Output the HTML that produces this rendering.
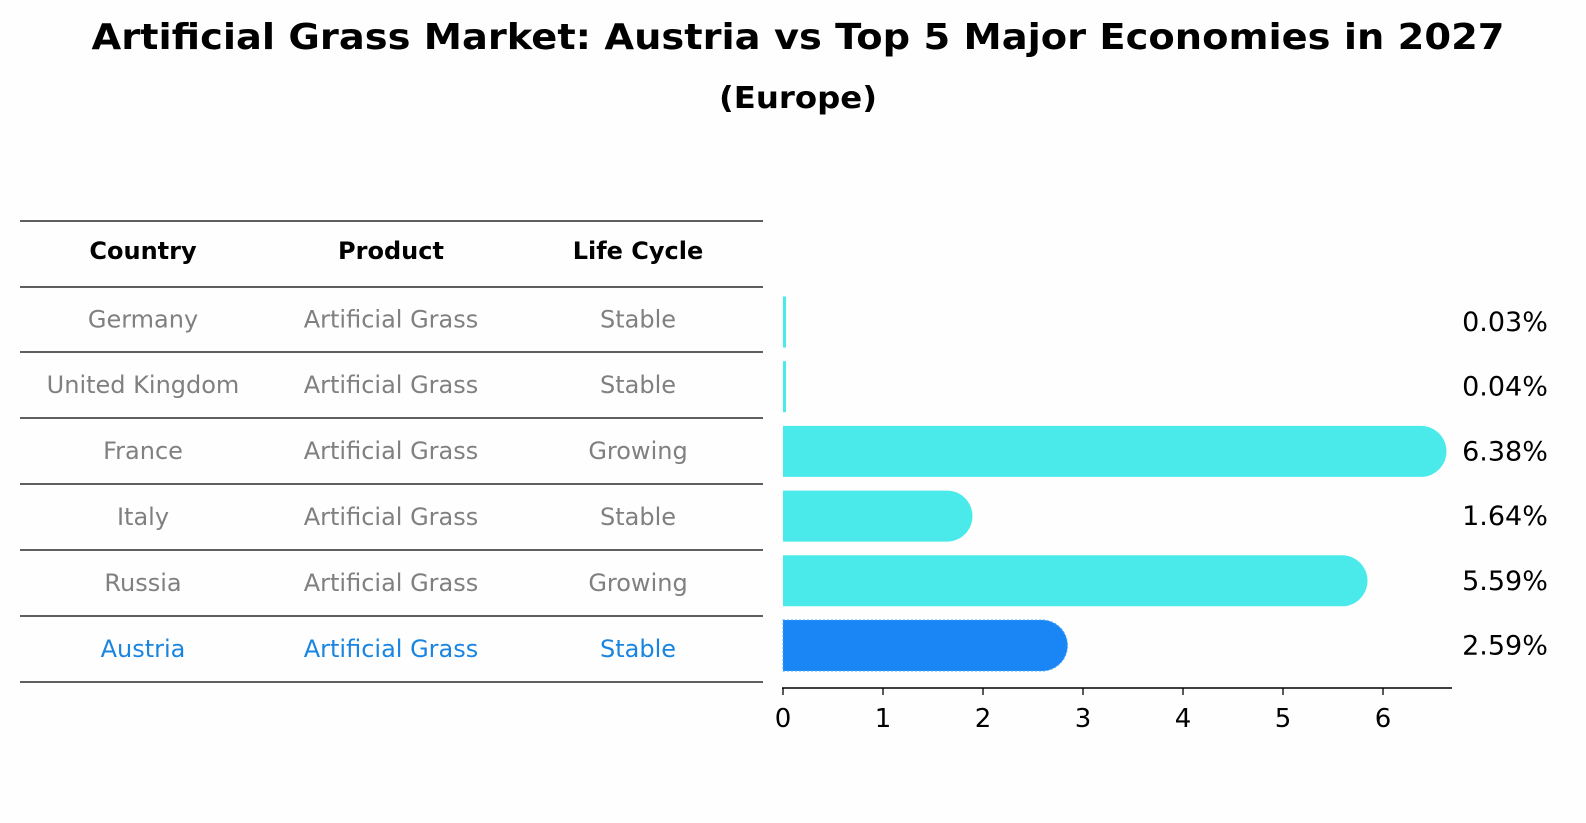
<!DOCTYPE html>
<html><head><meta charset="utf-8"><style>
body{margin:0;background:#fefefe;}
svg{display:block;font-family:"DejaVu Sans","Liberation Sans",sans-serif;}
</style></head><body>
<svg id="c" width="1586" height="823">
<rect width="1586" height="823" fill="#fefefe"/>
<text x="798" y="49" text-anchor="middle" font-size="36" font-weight="bold" textLength="1413" lengthAdjust="spacingAndGlyphs">Artificial Grass Market: Austria vs Top 5 Major Economies in 2027</text>
<text x="798" y="108" text-anchor="middle" font-size="30" font-weight="bold" textLength="158" lengthAdjust="spacingAndGlyphs">(Europe)</text>
<g id="tbl"></g>
<g id="bars"></g>
</svg>
<script>
const countries=["Germany","United Kingdom","France","Italy","Russia","Austria"];
const products=["Artificial Grass","Artificial Grass","Artificial Grass","Artificial Grass","Artificial Grass","Artificial Grass"];
const lifecycle=["Stable","Stable","Growing","Stable","Growing","Stable"];
const growth=[0.03,0.04,6.38,1.64,5.59,2.59];
const ticks=[0,1,2,3,4,5,6];

const NS="http://www.w3.org/2000/svg";
function mk(tag,attrs,parent,text){const e=document.createElementNS(NS,tag);for(const k in attrs)e.setAttribute(k,attrs[k]);if(text!==undefined)e.textContent=text;parent.appendChild(e);return e;}
const tbl=document.getElementById('tbl');
const lineYs=[221,287,352,418,484,550,616,682];
lineYs.forEach((y,i)=>{const l=mk('line',{x1:20,x2:763,y1:y,y2:y,stroke:'#000','stroke-width':1.2},tbl);

});
const colX=[143,391,638];
["Country","Product","Life Cycle"].forEach((h,i)=>{const t=mk('text',{x:colX[i],y:259,'text-anchor':'middle','font-size':24,'font-weight':'bold'},tbl,h);

});
countries.forEach((c,r)=>{const y=(lineYs[r+1]+lineYs[r+2])/2+8;const col=r===countries.length-1?'#1a85e0':'#808080';
[c,products[r],lifecycle[r]].forEach((v,i)=>{const t=mk('text',{x:colX[i],y:y,'text-anchor':'middle','font-size':24,fill:col},tbl,v);

});});

const bars=document.getElementById('bars');
const x0=783,pxPer=100;
const xs=v=>x0+v*pxPer;
const rowY=r=>322+r*64.7;
const h=51,rad=25.5;
growth.forEach((v,r)=>{const cy=rowY(r);const top=cy-h/2;const xe=xs(v);const last=r===growth.length-1;
const col=last?'#1a85f5':'#4aeaea';
let d;
if(v<0.2){d=`M${x0} ${top}H${x0+3}V${top+h}H${x0}Z`;}
else d=`M${x0} ${top}H${xe}A${rad} ${rad} 0 0 1 ${xe} ${top+h}H${x0}Z`;
const p=mk('path',{d:d,fill:col},bars);
if(last){p.setAttribute('stroke','#4aa8f8');p.setAttribute('stroke-dasharray','2 2');p.setAttribute('stroke-width','1');}


const t=mk('text',{x:1505,y:cy+9,'text-anchor':'middle','font-size':27},bars,v.toFixed(2)+'%');

});
const ax=mk('line',{x1:782,x2:1452,y1:688,y2:688,stroke:'#000','stroke-width':1.5},bars);


ticks.forEach(t=>{const tk=mk('line',{x1:xs(t),x2:xs(t),y1:688,y2:695,stroke:'#000','stroke-width':1.3},bars);


const lb=mk('text',{x:xs(t),y:727,'text-anchor':'middle','font-size':26},bars,String(t));

});
</script>
</body></html>
